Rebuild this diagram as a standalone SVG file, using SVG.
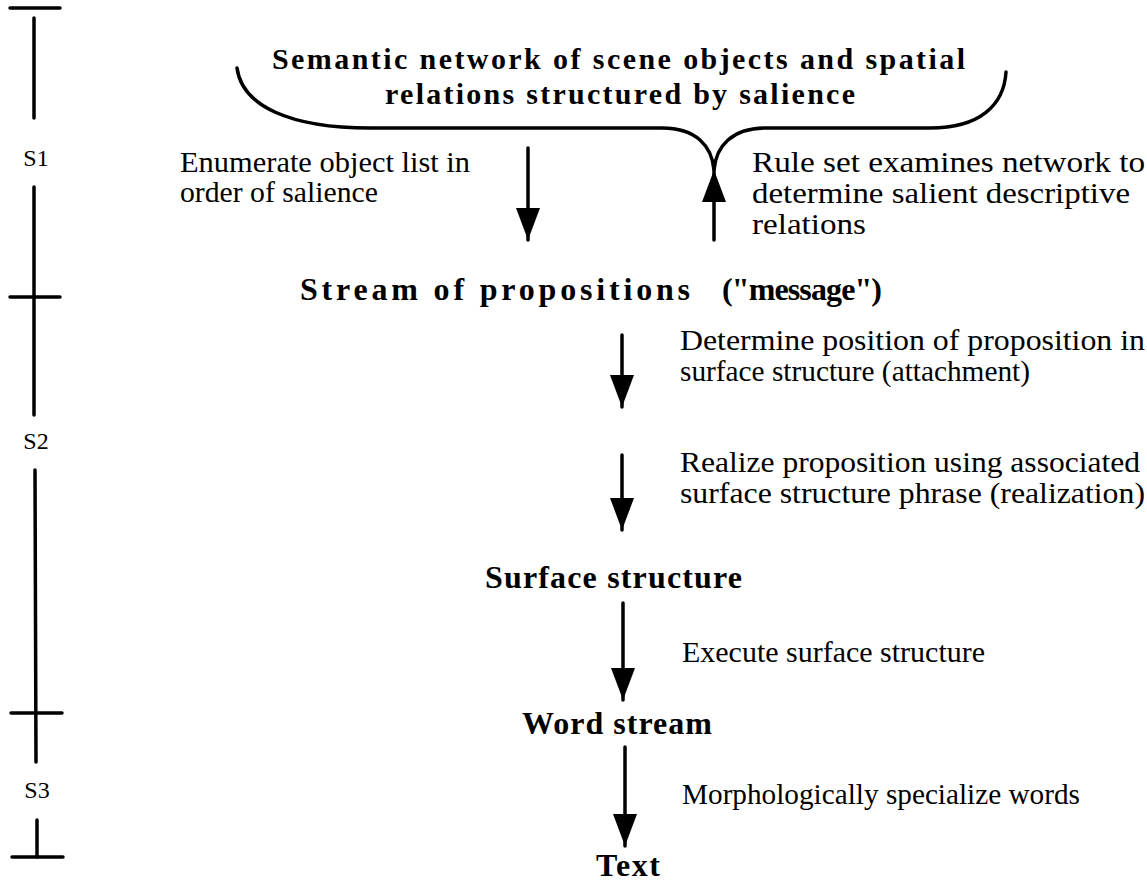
<svg xmlns="http://www.w3.org/2000/svg" width="1147" height="881" viewBox="0 0 1147 881">
<style>
.b{font-family:"Liberation Serif","Times New Roman",serif;font-weight:bold;font-size:32px;fill:#000}
.h{font-family:"Liberation Serif","Times New Roman",serif;font-weight:bold;font-size:30px;fill:#000}
.t{font-family:"Liberation Serif","Times New Roman",serif;font-size:30px;fill:#000}
.s{font-family:"Liberation Serif","Times New Roman",serif;font-size:24px;fill:#000}
.ln{stroke:#000;stroke-width:3.5;fill:none;stroke-linecap:round}
</style>
<defs>
<marker id="ah" viewBox="0 0 32 24" refX="32" refY="12" markerWidth="32" markerHeight="24" orient="auto" markerUnits="userSpaceOnUse">
<path d="M0,0 L32,12 L0,24 Z" fill="#000"/>
</marker>
</defs>
<rect width="1147" height="881" fill="#fff"/>
<g id="scale">
<line class="ln" x1="10" y1="8" x2="60" y2="8"/>
<line class="ln" x1="34" y1="18" x2="34" y2="118"/>
<text class="s" x="36" y="166" text-anchor="middle">S1</text>
<line class="ln" x1="34" y1="187" x2="34" y2="415"/>
<line class="ln" x1="10" y1="297" x2="60" y2="297"/>
<text class="s" x="36" y="449" text-anchor="middle">S2</text>
<line class="ln" x1="35" y1="470" x2="36" y2="762"/>
<line class="ln" x1="11" y1="713" x2="62" y2="713"/>
<text class="s" x="37" y="798" text-anchor="middle">S3</text>
<line class="ln" x1="37" y1="820" x2="37" y2="857"/>
<line class="ln" x1="12" y1="857" x2="63" y2="857"/>
</g>
<g id="network">
<text class="h" x="272" y="69" textLength="693" lengthAdjust="spacing">Semantic network of scene objects and spatial</text>
<text class="h" x="385" y="104" textLength="470" lengthAdjust="spacing">relations structured by salience</text>
<path class="ln" d="M237,68 C242,106 290,128 370,128 L662,128 C696,128 712,146 714,170 C716,146 732,128 766,128 L930,128 C980,128 1004,105 1006,72"/>
</g>
<g id="stream">
<text class="b" x="300" y="300" textLength="390" lengthAdjust="spacing">Stream of propositions</text>
<text class="b" x="722" y="300" textLength="160" lengthAdjust="spacing">("message")</text>
</g>
<g id="surface">
<text class="b" x="485" y="588" textLength="257" lengthAdjust="spacing">Surface structure</text>
</g>
<g id="word">
<text class="b" x="522" y="734" textLength="190" lengthAdjust="spacing">Word stream</text>
</g>
<g id="text">
<text class="b" x="596" y="876" textLength="64" lengthAdjust="spacing">Text</text>
</g>
<g id="connectors">
<line class="ln" x1="528" y1="148" x2="528" y2="240" marker-end="url(#ah)"/>
<line class="ln" x1="714" y1="240" x2="714" y2="170" marker-end="url(#ah)"/>
<line class="ln" x1="622" y1="335" x2="622" y2="407" marker-end="url(#ah)"/>
<line class="ln" x1="622" y1="455" x2="622" y2="530" marker-end="url(#ah)"/>
<line class="ln" x1="623" y1="603" x2="623" y2="700" marker-end="url(#ah)"/>
<line class="ln" x1="625" y1="747" x2="625" y2="846" marker-end="url(#ah)"/>
</g>
<g id="labels">
<text class="t" x="180" y="172" textLength="290" lengthAdjust="spacingAndGlyphs">Enumerate object list in</text>
<text class="t" x="180" y="202" textLength="198" lengthAdjust="spacingAndGlyphs">order of salience</text>
<text class="t" x="752" y="172" textLength="393" lengthAdjust="spacingAndGlyphs">Rule set examines network to</text>
<text class="t" x="752" y="203" textLength="378" lengthAdjust="spacingAndGlyphs">determine salient descriptive</text>
<text class="t" x="752" y="234" textLength="114" lengthAdjust="spacingAndGlyphs">relations</text>
<text class="t" x="680" y="350" textLength="465" lengthAdjust="spacingAndGlyphs">Determine position of proposition in</text>
<text class="t" x="680" y="381" textLength="350" lengthAdjust="spacingAndGlyphs">surface structure (attachment)</text>
<text class="t" x="680" y="472" textLength="460" lengthAdjust="spacingAndGlyphs">Realize proposition using associated</text>
<text class="t" x="680" y="503" textLength="465" lengthAdjust="spacingAndGlyphs">surface structure phrase (realization)</text>
<text class="t" x="682" y="662" textLength="303" lengthAdjust="spacingAndGlyphs">Execute surface structure</text>
<text class="t" x="682" y="804" textLength="398" lengthAdjust="spacingAndGlyphs">Morphologically specialize words</text>
</g>
</svg>
